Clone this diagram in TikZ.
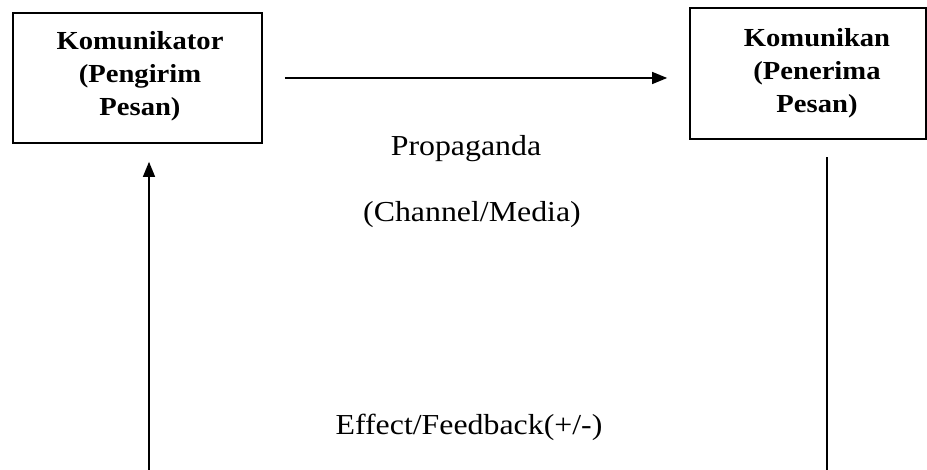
\documentclass[tikz,border=0pt]{standalone}
\usepackage{fontspec}
\setmainfont{Liberation Serif}[FakeStretch=1.1]
\usetikzlibrary{arrows.meta,calc}

\tikzset{
  kotak/.style={draw, line width=1.2pt, minimum width=#1, inner sep=0pt},
  judul/.style={font=\fontsize{18.5}{23.5}\selectfont\bfseries, align=center},
  ket/.style={font=\fontsize{20.6}{24}\selectfont, anchor=base},
  panah/.style={line width=1pt, -{Triangle[length=0.375cm, width=0.3cm]}},
  garis/.style={line width=1pt}
}

\begin{document}
\begin{tikzpicture}
			%%%%% START %%%%%
			\useasboundingbox (0, 0) rectangle (23.175, 11.75);
			
			\node[kotak=6.225cm, minimum height=3.25cm] (kmt) at (3.4375, 9.8) {};
			\node[judul] (kmtTeks) at (3.5, 9.85) {Komunikator\\(Pengirim\\Pesan)};
			
			\node[kotak=5.9cm, minimum height=3.275cm] (kmn) at (20.2, 9.9125) {};
			\node[judul] (kmnTeks) at (20.425, 9.925) {Komunikan\\(Penerima\\Pesan)};
			
			\draw[panah, shorten <=0.55cm, shorten >=0.55cm] (kmt.east) -- (kmt.east -| kmn.west);
			
			\node[ket] (prop) at (11.65, 7.85) {Propaganda};
			\node[ket] (chan) at (11.8, 6.2) {(Channel/Media)};
			
			\coordinate (fbKiri) at (3.725, 0);
			\coordinate (fbKanan) at (20.675, 0);
			\draw[garis, shorten >=0.425cm] (fbKanan) -- (fbKanan |- kmn.south);
			\draw[panah, shorten >=0.45cm] (fbKiri) -- (fbKiri |- kmt.south);
			
			\node[ket] (efek) at (11.725, 0.875) {Effect/Feedback(+/-)};
			
			%%%%% END %%%%%
\end{tikzpicture}
\end{document}
